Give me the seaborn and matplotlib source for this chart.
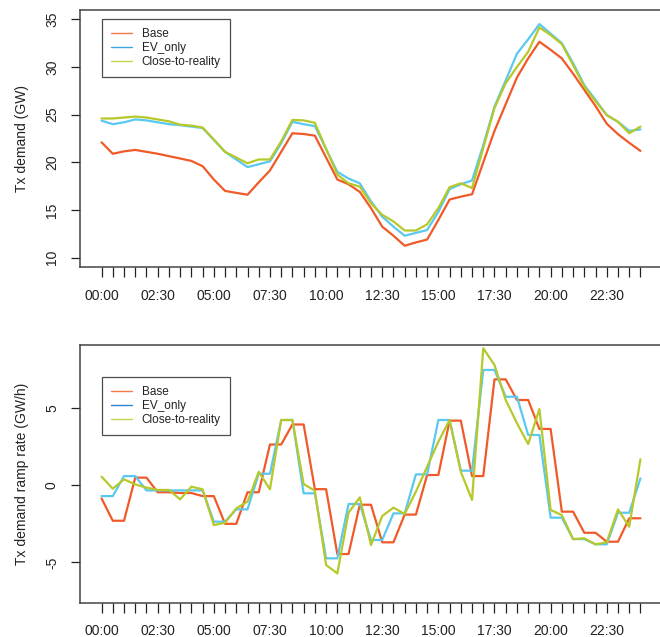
import numpy as np
import pandas as pd
import matplotlib
matplotlib.use("Agg")
import matplotlib.pyplot as plt
from matplotlib.lines import Line2D
from matplotlib.ticker import FixedLocator
from matplotlib.transforms import blended_transform_factory
import seaborn as sns

# ---------------- data ----------------
scenarios = ["Base", "EV_only", "Close-to-reality"]
tick_labels = ["00:00", "02:30", "05:00", "07:30", "10:00",
               "12:30", "15:00", "17:30", "20:00", "22:30"]
demand_yticks = [10, 15, 20, 25, 30, 35]
ramp_yticks = [-5, 0, 5]

base_demand = [22.1, 20.9, 21.15, 21.3, 21.1, 20.9, 20.65, 20.4, 20.15, 19.6,
               18.2, 17.0, 16.8, 16.6, 17.9, 19.15, 21.1, 23.05, 22.97, 22.8,
               20.5, 18.2, 17.7, 16.9, 15.2, 13.25, 12.3, 11.25, 11.6, 11.9,
               13.95, 16.1, 16.4, 16.65, 20.0, 23.3, 26.1, 28.9, 30.9, 32.65,
               31.8, 30.9, 29.3, 27.6, 25.9, 24.05, 22.95, 22.05, 21.2]
ev_demand = [24.37, 24.0, 24.2, 24.5, 24.4, 24.2, 24.0, 23.9, 23.75, 23.6,
             22.35, 21.1, 20.3, 19.5, 19.8, 20.1, 22.0, 24.25, 24.0, 23.8,
             21.4, 19.0, 18.3, 17.8, 15.9, 14.3, 13.25, 12.3, 12.6, 12.9,
             14.8, 17.2, 17.7, 18.1, 21.8, 25.85, 28.6, 31.4, 32.9, 34.5,
             33.5, 32.5, 30.4, 28.1, 26.55, 24.95, 24.25, 23.3, 23.45]
close_demand = [24.6, 24.6, 24.7, 24.8, 24.7, 24.5, 24.3, 23.95, 23.85, 23.65,
                22.4, 21.1, 20.5, 19.9, 20.3, 20.3, 22.2, 24.45, 24.4, 24.15,
                21.4, 18.7, 17.8, 17.45, 15.7, 14.5, 13.8, 12.85, 12.85, 13.5,
                15.2, 17.4, 17.8, 17.3, 21.5, 25.7, 28.3, 30.0, 31.6, 34.15,
                33.35, 32.4, 30.2, 27.95, 26.4, 24.95, 24.25, 23.05, 23.75]

base_ramp = [-0.85, -2.3, -2.3, 0.5, 0.5, -0.45, -0.45, -0.5, -0.5, -0.7,
             -0.7, -2.5, -2.5, -0.45, -0.45, 2.65, 2.65, 3.95, 3.95, -0.25,
             -0.25, -4.46, -4.46, -1.26, -1.26, -3.7, -3.7, -1.9, -1.9, 0.67,
             0.67, 4.2, 4.2, 0.6, 0.6, 6.88, 6.88, 5.54, 5.54, 3.66,
             3.66, -1.71, -1.71, -3.08, -3.08, -3.66, -3.66, -2.14, -2.14]
ev_ramp = [-0.7, -0.7, 0.6, 0.6, -0.33, -0.33, -0.33, -0.33, -0.33, -0.33,
           -2.36, -2.36, -1.56, -1.56, 0.75, 0.75, 4.24, 4.24, -0.52, -0.52,
           -4.74, -4.74, -1.21, -1.21, -3.55, -3.55, -1.82, -1.82, 0.71, 0.71,
           4.24, 4.24, 0.95, 0.95, 7.49, 7.49, 5.75, 5.75, 3.27, 3.27,
           -2.1, -2.1, -3.49, -3.49, -3.83, -3.83, -1.78, -1.78, 0.45]
close_ramp = [0.56, -0.22, 0.39, 0.06, -0.15, -0.3, -0.3, -0.91, -0.09, -0.26,
              -2.58, -2.43, -1.5, -1.06, 0.88, -0.26, 4.24, 4.24, 0.08, -0.35,
              -5.17, -5.72, -1.78, -0.78, -3.88, -1.99, -1.45, -1.86, -0.41, 1.21,
              2.83, 4.24, 0.88, -0.95, 8.9, 7.81, 5.54, 4.03, 2.68, 4.95,
              -1.6, -1.93, -3.49, -3.44, -3.83, -3.7, -1.56, -2.69, 1.69]

# ---------------- style ----------------
sns.set_style("ticks")
plt.rcParams["font.family"] = ["Liberation Sans", "DejaVu Sans"]
plt.rcParams["font.size"] = 10

line_colors = {"Base": "#F05A28", "EV_only": "#5AC8F0", "Close-to-reality": "#B7C82A"}
legend_colors_top = {"Base": "#F47A50", "EV_only": "#3FA6E0", "Close-to-reality": "#C6D44A"}
legend_colors_bot = {"Base": "#F47A50", "EV_only": "#2E86D1", "Close-to-reality": "#C6D44A"}

n = len(base_demand)
idx = np.arange(n)


def long_df(series):
    frames = []
    for name, vals in zip(scenarios, series):
        frames.append(pd.DataFrame({"t": idx, "value": vals, "scenario": name}))
    return pd.concat(frames, ignore_index=True)


df_top = long_df([base_demand, ev_demand, close_demand])
df_bot = long_df([base_ramp, ev_ramp, close_ramp])

fig = plt.figure(figsize=(6.6, 6.37), dpi=100)
W, H = 660.0, 637.0
AX_W = 582.0
ax1 = fig.add_axes([80 / W, 1 - 267.3 / H, AX_W / W, (267.3 - 9.5) / H])
ax2 = fig.add_axes([80 / W, 1 - 602.7 / H, AX_W / W, (602.7 - 345.0) / H])

edge = "#444444"
txt = "#222222"


def style_axis(ax, df, ylim, yticks, ylabel, leg_y, leg_cols):
    sns.lineplot(data=df, x="t", y="value", hue="scenario", hue_order=scenarios,
                 palette=line_colors, linewidth=1.6, legend=False, ax=ax,
                 sort=False, estimator=None)
    ax.set_xlim(-1.92, 49.92)
    ax.set_ylim(*ylim)
    ax.xaxis.set_major_locator(FixedLocator(list(idx)))
    labels = []
    for i in idx:
        labels.append(tick_labels[i // 5] if (i % 5 == 0 and i // 5 < len(tick_labels)) else "")
    ax.set_xticklabels(labels)
    ax.set_yticks(yticks)
    ax.set_yticklabels([""] * len(yticks))
    ax.tick_params(axis="x", length=7.5, width=0.9, color=txt, pad=8,
                   labelsize=10, labelcolor=txt, direction="out")
    ax.tick_params(axis="y", length=6.5, width=0.9, color=txt, pad=2,
                   direction="out", left=True)
    # rotated y tick labels (R style)
    trans = blended_transform_factory(ax.transAxes, ax.transData)
    for v in yticks:
        ax.text((52 - 80) / AX_W, v, str(v), transform=trans, rotation=90,
                ha="center", va="center", fontsize=10, color=txt, clip_on=False)
    for s in ax.spines.values():
        s.set_color(edge)
        s.set_linewidth(1.1)
    ax.set_xlabel("")
    ax.set_ylabel(ylabel, fontsize=10, color=txt)
    ax.yaxis.set_label_coords(-0.088, 0.5)
    handles = [Line2D([0], [0], color=leg_cols[s], lw=1.0) for s in scenarios]
    leg = ax.legend(handles, scenarios, loc="upper left",
                    bbox_to_anchor=(21.7 / AX_W, leg_y), frameon=True,
                    fancybox=False, edgecolor=txt, fontsize=8.5,
                    handlelength=1.85, handletextpad=0.8, labelspacing=0.15,
                    borderpad=0.75, borderaxespad=0.0)
    leg.get_frame().set_linewidth(0.9)
    for t in leg.get_texts():
        t.set_color(txt)


style_axis(ax1, df_top, (8.99, 36.03), demand_yticks,
           "Tx demand (GW)", 1 - (19.3 - 9.5) / 257.8, legend_colors_top)
style_axis(ax2, df_bot, (-7.62, 9.11), ramp_yticks,
           "Tx demand ramp rate (GW/h)", 1 - (377.3 - 345.0) / 257.7, legend_colors_bot)

fig.savefig("out.png", dpi=100)
